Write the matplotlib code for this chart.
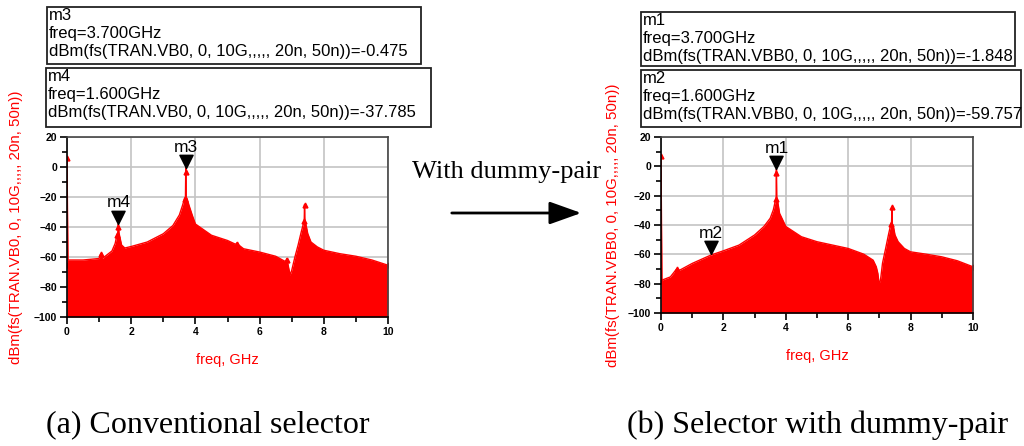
"""
ADS spectrum comparison: conventional selector vs selector with dummy-pair
"""
import matplotlib.pyplot as plt
from matplotlib.patches import Rectangle, FancyArrowPatch

plt.rcParams['font.family'] = 'Liberation Sans'
plt.rcParams['font.size'] = 10

# ============================================================
# Data
# ============================================================

# (a) conventional selector, VB0
freq_a = [0, 0.03, 0.5, 1.0, 1.05, 1.1, 1.4, 1.5, 1.55, 1.58, 1.6, 1.62, 1.65,
          1.7, 1.8, 2.0, 2.5, 3.0, 3.3, 3.5, 3.6, 3.66, 3.69, 3.7, 3.71, 3.74,
          3.8, 3.9, 4.0, 4.5, 5.0, 5.25, 5.3, 5.35, 5.5, 6.0, 6.5, 6.8, 6.85,
          6.9, 6.95, 7.0, 7.1, 7.2, 7.3, 7.35, 7.39, 7.4, 7.41, 7.45, 7.5, 7.6,
          7.8, 8.0, 8.5, 9.0, 9.5, 10.0]
dbm_a = [6, -62, -62, -61, -58, -61, -56, -51, -46, -44, -37.8, -44, -47,
         -52, -54, -53, -50, -44.5, -39, -32, -25.5, -21, -20, -0.5, -20, -21,
         -25.5, -32, -38, -45.5, -49, -51.5, -50.5, -52, -54.5, -56.7, -59.5,
         -63, -61, -66.7, -72, -69, -60, -52, -43, -39, -36, -25, -36, -39,
         -44.4, -50, -53.3, -55.5, -57.8, -59.5, -62, -65.5]
# small ADS sample markers along the trace
pts_fa = [0, 0, 1.05, 1.6, 1.57, 3.7, 3.68, 5.3, 6.85, 7.4, 7.37, 10.0]
pts_da = [6, -65, -58, -40, -45, -3, -21, -51, -62, -25, -36, -65.5]

# (b) selector with dummy-pair, VBB0
freq_b = [0, 0.03, 0.3, 0.5, 0.6, 1.0, 1.6, 2.0, 2.5, 3.0, 3.3, 3.5, 3.6,
          3.66, 3.69, 3.7, 3.71, 3.74, 3.8, 4.0, 4.5, 5.0, 5.5, 6.0, 6.5, 6.8,
          6.9, 6.95, 7.0, 7.05, 7.1, 7.2, 7.3, 7.35, 7.39, 7.4, 7.41, 7.45,
          7.5, 7.6, 7.8, 8.0, 8.5, 9.0, 9.5, 10.0]
dbm_b = [7, -77.6, -75.4, -70, -70.8, -66.2, -60.5, -57.6, -53.7, -46.8, -41,
         -35.4, -29.7, -24, -22, -1.8, -22, -24, -32, -41, -48, -51.4, -53.7,
         -56, -59.9, -64, -68.5, -73, -82, -75, -66, -56, -45.7, -41, -39,
         -27.9, -39, -41, -46.8, -51.4, -56, -58.3, -59.9, -61.7, -64.4, -68.5]
pts_fb = [0, 0, 0.5, 3.7, 3.68, 7.0, 7.4, 7.37, 10.0]
pts_db = [7, -78, -70, -4.5, -22, -80, -27.5, -39, -68.5]

# marker readouts
mk_names_a = ['m3', 'm4']
mk_freq_a = [3.7, 1.6]
mk_val_a = [-0.475, -37.785]
mk_names_b = ['m1', 'm2']
mk_freq_b = [3.7, 1.6]
mk_val_b = [-1.848, -59.757]

x_ticks = [0, 2, 4, 6, 8, 10]
y_ticks = [-100, -80, -60, -40, -20, 0, 20]

# ============================================================
# Layout helpers (pixel -> figure fraction)
# ============================================================
W, H = 1024, 446


def fx(x):
    return x / W


def fy(y):
    return 1 - y / H


fig = plt.figure(figsize=(W / 100, H / 100), dpi=100)

# down-pointing marker with the tip at the data point
tri = [(0, 0), (-0.5, 1), (0.5, 1), (0, 0)]


def draw_panel(rect, freq, dbm, pts_f, pts_d, names, mfreq, mval, ylabel, lab_dx):
    x0, y0, x1, y1 = rect
    ax = fig.add_axes([fx(x0), fy(y1), fx(x1 - x0), (y1 - y0) / H])
    ax.fill_between(freq, -100, dbm, color='#ff0000', linewidth=0, zorder=2)
    ax.plot(freq, dbm, color='#ff0000', linewidth=1, zorder=2)
    ax.plot(pts_f, pts_d, linestyle='none', marker='^', color='#ff0000',
            markersize=3.5, zorder=3)
    for name, f, v in zip(names, mfreq, mval):
        ax.plot([f], [v], marker=tri, color='black', markersize=19,
                linestyle='none', zorder=5)
        ax.annotate(name, (f, v), xytext=(0, 9.5), textcoords='offset points',
                    ha='center', va='bottom', fontsize=12.5)
    ax.set_xlim(0, 10)
    ax.set_ylim(-100, 20)
    ax.set_xticks(x_ticks)
    ax.set_yticks(y_ticks)
    ax.set_xticks([1, 3, 5, 7, 9], minor=True)
    ax.set_yticks([-90, -70, -50, -30, -10, 10], minor=True)
    ax.grid(True, which='major', color='#c4c4c4', linewidth=1.2, zorder=1)
    ax.set_axisbelow(True)
    for sp in ax.spines.values():
        sp.set_color('#444444')
        sp.set_linewidth(1.2)
        sp.set_zorder(4)
    ax.spines['left'].set_color('black')
    ax.spines['bottom'].set_color('black')
    ax.tick_params(which='major', length=5, width=1.2, direction='out',
                   labelsize=7.5, pad=2)
    ax.tick_params(which='minor', length=3.5, width=1.2, direction='out')
    for lab in ax.get_xticklabels() + ax.get_yticklabels():
        lab.set_fontweight('bold')
    ax.set_xlabel('freq, GHz', color='#ff0000', fontsize=10.5)
    ax.xaxis.set_label_coords(0.5, -36 / (y1 - y0))
    ax.set_ylabel(ylabel, color='#ff0000', fontsize=10.8)
    ax.yaxis.set_label_coords(lab_dx / (x1 - x0), 0.5)
    return ax


def marker_box(x0, y0, x1, y1, text):
    fig.add_artist(Rectangle((fx(x0), fy(y1)), fx(x1 - x0), (y1 - y0) / H,
                             transform=fig.transFigure, fill=False,
                             edgecolor='#222222', linewidth=1.3))
    fig.text(fx(x0 + 2), fy(y0 + 1), text, ha='left', va='top', fontsize=12,
             linespacing=1.25)


# ============================================================
# Panel (a)
# ============================================================
draw_panel((67, 137, 388, 317), freq_a, dbm_a, pts_fa, pts_da,
           mk_names_a, mk_freq_a, mk_val_a,
           'dBm(fs(TRAN.VB0, 0, 10G,,,,, 20n, 50n))', -44)
marker_box(47, 7, 421, 64,
           'm3\nfreq=3.700GHz\ndBm(fs(TRAN.VB0, 0, 10G,,,,, 20n, 50n))=-0.475')
marker_box(46, 68, 431, 127,
           'm4\nfreq=1.600GHz\ndBm(fs(TRAN.VB0, 0, 10G,,,,, 20n, 50n))=-37.785')

# ============================================================
# Panel (b)
# ============================================================
draw_panel((661, 137, 973, 313), freq_b, dbm_b, pts_fb, pts_db,
           mk_names_b, mk_freq_b, mk_val_b,
           'dBm(fs(TRAN.VBB0, 0, 10G,,,,, 20n, 50n))', -41)
marker_box(641, 12, 1015, 66,
           'm1\nfreq=3.700GHz\ndBm(fs(TRAN.VBB0, 0, 10G,,,,, 20n, 50n))=-1.848')
marker_box(641, 70, 1021, 127,
           'm2\nfreq=1.600GHz\ndBm(fs(TRAN.VBB0, 0, 10G,,,,, 20n, 50n))=-59.757')

# ============================================================
# Arrow + captions
# ============================================================
fig.text(fx(507), fy(172), 'With dummy-pair', ha='center', va='center',
         fontsize=19, family='Liberation Serif')
fig.add_artist(FancyArrowPatch(
    (fx(449), fy(213)), (fx(584), fy(213)), transform=fig.transFigure,
    arrowstyle='-|>,head_length=1.4,head_width=0.5', mutation_scale=14,
    color='black', linewidth=2))

fig.text(fx(46), fy(425), '(a) Conventional selector', ha='left', va='center',
         fontsize=23, family='Liberation Serif')
fig.text(fx(627), fy(425), '(b) Selector with dummy-pair', ha='left',
         va='center', fontsize=23, family='Liberation Serif')

plt.savefig('out.png', dpi=100)
plt.close()
print("Saved: out.png")
